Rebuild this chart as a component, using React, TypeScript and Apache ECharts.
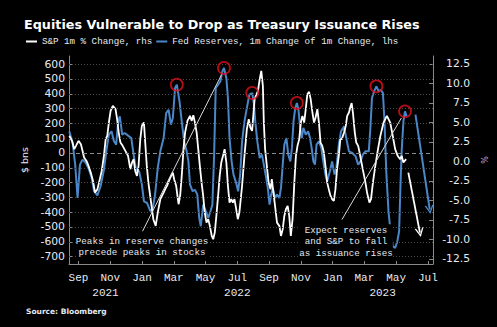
import React, { useEffect, useRef } from 'react';
import * as echarts from 'echarts';

const TITLE = 'Equities Vulnerable to Drop as Treasury Issuance Rises';
const SP_NAME = 'S&P 1m % Change, rhs';
const FED_NAME = 'Fed Reserves, 1m Change of 1m Change, lhs';
const SOURCE = 'Source: Bloomberg';
const NOTE_LEFT = 'Peaks in reserve changes\nprecede peaks in stocks';
const NOTE_RIGHT = 'Expect reserves\nand S&P to fall\nas issuance rises';
const MONTH_NAMES = ['Jan', 'Feb', 'Mar', 'Apr', 'May', 'Jun', 'Jul', 'Aug', 'Sep', 'Oct', 'Nov', 'Dec'];

// time = months since the start of Jan 2021 (fractional)
const fedTime = [
  7.92, 8.13, 8.29, 8.44, 8.59, 8.75, 8.96, 9.16, 9.33, 9.48,
  9.69, 9.89, 10.10, 10.25, 10.41, 10.58, 10.72, 10.87, 11.0, 11.10,
  11.25, 11.41, 11.62, 11.82, 11.97, 12.12, 12.32, 12.49, 12.62, 12.82,
  13.03, 13.18, 13.32, 13.49, 13.65, 13.86, 14.02, 14.17, 14.32, 14.44,
  14.58, 14.69, 14.86, 15.0, 15.15, 15.31, 15.42, 15.52, 15.69, 15.83,
  15.98, 16.10, 16.20, 16.35, 16.52, 16.67, 16.81, 16.93, 17.04, 17.14,
  17.29, 17.43, 17.56, 17.66, 17.81, 17.91, 18.01, 18.14, 18.26, 18.43,
  18.55, 18.68, 18.80, 18.95, 19.1, 19.26, 19.44, 19.55, 19.63, 19.76,
  19.91, 20.05, 20.17, 20.32, 20.42, 20.53, 20.63, 20.73, 20.88, 21.0,
  21.15, 21.25, 21.36, 21.46, 21.59, 21.71, 21.84, 21.94, 22.04, 22.15,
  22.25, 22.35, 22.46, 22.56, 22.66, 22.81, 22.96, 23.08, 23.18, 23.29,
  23.39, 23.49, 23.64, 23.79, 23.91, 24.05, 24.16, 24.33, 24.47, 24.62,
  24.74, 24.89, 25.03, 25.16, 25.22, 25.36, 25.53, 25.74, 25.95, 26.11,
  26.26, 26.40, 26.57, 26.78, 26.88, 26.98, 27.11, 27.26, 27.40, 27.54,
  27.67, 27.77, 27.88, 28.02, 28.17, 28.29, 28.44, 28.58, 28.69, 28.77,
  28.85, 28.96, 29.06, 29.16,
];
const fedValues = [
  146, 67, -79, -304, -79, -45, -67, -113, -169, -259,
  -286, -225, -113, 11, 124, 146, 83, 56, 213, 247,
  124, 135, 117, 101, -11, -113, -124, -214, -327, -338,
  -394, -371, -281, -101, 11, 101, 270, 292, 191, 236,
  439, 461, 348, 213, 78, 11, -57, -214, -259, -248,
  -281, -439, -495, -349, -394, -439, -394, -349, -11, 439,
  461, 483, 551, 574, 506, 371, 101, -57, -146, -203,
  -259, -146, 78, 213, 304, 394, 405, 326, 213, 78,
  -34, -11, -79, -169, -236, -349, -281, -236, -304, -281,
  -304, -236, -79, 56, 101, -11, -57, 34, 213, 304,
  338, 292, 169, 101, 169, 124, 146, 101, 34, -57,
  -79, 56, 78, 34, -57, -146, -192, -124, -57, -146,
  -101, 56, 146, 169, 180, 101, 11, 0, -23, -79,
  -57, -11, 11, 11, 169, 371, 416, 450, 416, 427,
  405, 213, -124, -394, -551, -630, -641, -596, -529, -236,
  11, 213, 281, 247,
];

const spTime = [
  7.92, 8.09, 8.23, 8.34, 8.50, 8.65, 8.75, 8.85, 9.00, 9.13,
  9.27, 9.41, 9.54, 9.69, 9.79, 9.96, 10.10, 10.21, 10.31, 10.41,
  10.52, 10.66, 10.83, 10.93, 11.03, 11.14, 11.28, 11.45, 11.62, 11.76,
  11.87, 11.97, 12.07, 12.18, 12.28, 12.39, 12.49, 12.62, 12.70, 12.80,
  12.90, 13.07, 13.21, 13.36, 13.49, 13.65, 13.86, 13.96, 14.07, 14.24,
  14.38, 14.44, 14.52, 14.65, 14.73, 14.80, 14.90, 15.0, 15.11, 15.21,
  15.36, 15.52, 15.63, 15.73, 15.83, 15.94, 16.04, 16.14, 16.25, 16.35,
  16.45, 16.56, 16.67, 16.77, 16.89, 16.98, 17.08, 17.18, 17.29, 17.39,
  17.49, 17.60, 17.70, 17.81, 17.91, 18.01, 18.12, 18.22, 18.32, 18.43,
  18.53, 18.63, 18.80, 18.95, 19.10, 19.22, 19.32, 19.43, 19.59, 19.80,
  19.91, 20.01, 20.11, 20.17, 20.25, 20.38, 20.47, 20.59, 20.67, 20.80,
  20.90, 21.0, 21.15, 21.25, 21.36, 21.46, 21.56, 21.67, 21.77, 21.87,
  21.98, 22.09, 22.19, 22.29, 22.40, 22.50, 22.60, 22.71, 22.81, 22.91,
  23.02, 23.12, 23.23, 23.33, 23.43, 23.54, 23.64, 23.74, 23.85, 23.95,
  24.05, 24.16, 24.26, 24.37, 24.47, 24.58, 24.68, 24.78, 24.89, 24.99,
  25.08, 25.22, 25.33, 25.42, 25.53, 25.64, 25.70, 25.78, 25.90, 25.99,
  26.11, 26.20, 26.32, 26.40, 26.57, 26.67, 26.82, 26.92, 27.04, 27.19,
  27.36, 27.51, 27.71, 27.92, 28.13, 28.29, 28.44, 28.60, 28.75, 28.85,
  28.96, 29.13,
];
const spValues = [
  3.27, 2.63, 1.56, 1.99, 2.63, 2.2, 1.35, 0.49, 0.06, -0.58,
  -1.44, -2.5, -4.0, -3.56, -2.72, -1.22, 0.71, 2.85, 3.27, 4.97,
  6.47, 7.12, 6.69, 5.41, 3.69, 2.41, 1.99, 1.35, 0.71, -1.0,
  -0.15, 0.28, -1.22, -1.86, -0.58, 2.85, 4.55, 4.97, 2.41, -0.58,
  -2.72, -5.28, -7.41, -8.27, -6.56, -4.85, -4.0, -3.56, -3.14, -2.28,
  -1.64, -1.44, -2.28, -3.14, -4.42, -5.49, -4.42, -1.86, 1.56, 3.69,
  5.19, 5.83, 5.19, 5.92, 4.97, 3.69, 1.56, -0.58, -2.72, -4.42,
  -6.56, -7.85, -7.41, -8.27, -9.55, -9.97, -9.13, -6.99, -4.42, -1.86,
  -0.15, 0.71, 1.56, -0.15, -3.14, -5.28, -4.85, -5.28, -4.85, -6.13,
  -7.41, -6.56, -3.14, 0.71, 4.13, 5.41, 4.33, 3.91, 7.97, 9.04,
  10.54, 11.6, 9.68, 4.97, 1.56, -1.0, -2.72, -3.56, -2.28, -4.42,
  -6.13, -7.85, -8.27, -9.55, -8.69, -6.99, -6.13, -5.71, -6.99, -9.55,
  -7.41, -2.72, 0.71, 1.99, 2.85, 4.97, 5.83, 4.97, 6.69, 8.61,
  8.91, 7.97, 6.26, 4.97, 5.62, 6.69, 4.97, 2.41, 1.99, 1.13,
  -0.58, -2.72, -3.56, -4.42, -4.85, -5.06, -3.56, -1.0, 0.71, 2.85,
  2.85, 3.69, 4.55, 5.83, 6.26, 7.12, 7.46, 6.26, 3.69, 2.41,
  1.99, 1.13, -0.15, -1.0, -2.72, -4.0, -5.28, -4.85, -2.72, -0.58,
  1.56, 3.27, 4.97, 5.83, 4.97, 3.27, 1.56, 0.71, 0.28, 0.71,
  -0.15, 0.28,
];

// circled peaks in reserve changes (times taken from the Fed series)
const peakTimes = [14.69, 17.66, 19.44, 22.25, 27.26, 29.06];

// projected arrows and guide lines: [time, value]
const spArrow = [[29.27, -1.44], [30.0, -9.13]];
const fedArrow = [[29.72, 259], [30.62, -383]];
const guideLines = [
  [[12.53, -529], [17.51, 529]],
  [[25.09, -450], [28.83, 236]],
];

const monthTicks = [8.5, 10.5, 12.5, 14.5, 16.5, 18.5, 20.5, 22.5, 24.5, 26.5, 28.5, 30.5];
const yearTicks = [10.2, 18.5, 27.65];
const leftTicks = [-700, -600, -500, -400, -300, -200, -100, 0, 100, 200, 300, 400, 500, 600];
const rightTicks = [-12.5, -10, -7.5, -5, -2.5, 0, 2.5, 5, 7.5, 10, 12.5];

const X_MIN = 7.9;
const X_MAX = 30.83;

const BLUE = '#4a86c8';
const TEXT = '#e6eaf2';
const AXIS = '#8a8a8a';
const MONO = '"Liberation Mono", "DejaVu Sans Mono", monospace';
const SANS = '"DejaVu Sans", Verdana, sans-serif';
const CHEVRON = 'path://M0,10 L5,0 L10,10 L8.4,10 L5,3.2 L1.6,10 Z';

export default function App() {
  const ref = useRef<HTMLDivElement>(null);

  useEffect(() => {
    document.body.style.margin = '0';
    document.body.style.background = '#000';
    if (!ref.current) return;
    const chart = echarts.init(ref.current, null, { renderer: 'svg' });

    const fedData = fedTime.map((t, i) => [t, fedValues[i]]);
    const spData = spTime.map((t, i) => [t, spValues[i]]);
    const peakData = peakTimes.map((t) => [t, fedValues[fedTime.indexOf(t)]]);

    const option: any = {
      animation: false,
      backgroundColor: '#000',
      title: {
        text: TITLE,
        left: 24,
        top: 18,
        padding: 0,
        textStyle: { color: '#ffffff', fontFamily: SANS, fontWeight: 'bold', fontSize: 12.75 },
      },
      legend: {
        data: [SP_NAME, FED_NAME],
        left: 26,
        top: 37,
        padding: 0,
        icon: 'rect',
        itemWidth: 11,
        itemHeight: 2,
        itemGap: 4,
        textStyle: { color: TEXT, fontFamily: MONO, fontSize: 9.2 },
      },
      grid: { left: 69, right: 61, top: 56, bottom: 63, containLabel: false },
      xAxis: [
        {
          type: 'value',
          min: X_MIN,
          max: X_MAX,
          axisLine: { show: true, onZero: false, lineStyle: { color: AXIS } },
          axisTick: { show: true, inside: true, length: 3, customValues: monthTicks, lineStyle: { color: AXIS } },
          axisLabel: {
            customValues: monthTicks,
            formatter: (v: number) => MONTH_NAMES[Math.floor(v + 1e-9) % 12],
            color: TEXT,
            fontFamily: MONO,
            fontSize: 11,
            margin: 8,
          },
          splitLine: { show: false },
        },
        {
          type: 'value',
          min: X_MIN,
          max: X_MAX,
          position: 'bottom',
          offset: 15,
          axisLine: { show: false, onZero: false },
          axisTick: { show: false },
          axisLabel: {
            customValues: yearTicks,
            formatter: (v: number) => String(2021 + Math.floor(v / 12)),
            color: TEXT,
            fontFamily: MONO,
            fontSize: 11,
            margin: 8,
          },
          splitLine: { show: false },
        },
      ],
      yAxis: [
        {
          type: 'value',
          position: 'left',
          min: -750,
          max: 655,
          name: '$ bns',
          nameLocation: 'middle',
          nameGap: 37,
          nameRotate: 90,
          nameTextStyle: { color: TEXT, fontFamily: SANS, fontSize: 9.5 },
          axisLine: { show: true, onZero: false, lineStyle: { color: AXIS } },
          axisTick: { show: true, inside: true, length: 4, customValues: leftTicks, lineStyle: { color: AXIS } },
          axisLabel: { customValues: leftTicks, color: TEXT, fontFamily: SANS, fontSize: 10.8, margin: 4 },
          splitLine: { show: false },
        },
        {
          type: 'value',
          position: 'right',
          min: -13.15,
          max: 13.5,
          name: '%',
          nameLocation: 'middle',
          nameGap: 44,
          nameRotate: 90,
          nameTextStyle: { color: '#c8a2d8', fontFamily: SANS, fontSize: 8 },
          axisLine: { show: true, onZero: false, lineStyle: { color: AXIS } },
          axisTick: { show: true, inside: true, length: 4, customValues: rightTicks, lineStyle: { color: AXIS } },
          axisLabel: {
            customValues: rightTicks,
            formatter: (v: number) => v.toFixed(1),
            align: 'right',
            margin: 37,
            color: TEXT,
            fontFamily: SANS,
            fontSize: 10.8,
          },
          splitLine: { show: false },
        },
      ],
      series: [
        {
          name: 'grid',
          type: 'line',
          data: [],
          xAxisIndex: 0,
          yAxisIndex: 0,
          silent: true,
          z: 1,
          markLine: {
            silent: true,
            symbol: 'none',
            label: { show: false },
            data: leftTicks.map((v) => ({
              yAxis: v,
              lineStyle:
                v === 0
                  ? { color: '#8c8c8c', type: [4, 3], width: 1 }
                  : { color: '#4c4c4c', type: [1, 2], width: 1 },
            })),
          },
        },
        {
          name: FED_NAME,
          type: 'line',
          data: fedData,
          xAxisIndex: 0,
          yAxisIndex: 0,
          showSymbol: false,
          symbol: 'none',
          lineStyle: { color: BLUE, width: 2 },
          itemStyle: { color: BLUE },
          z: 2,
        },
        {
          name: SP_NAME,
          type: 'line',
          data: spData,
          xAxisIndex: 0,
          yAxisIndex: 1,
          showSymbol: false,
          symbol: 'none',
          lineStyle: { color: '#ffffff', width: 1.8 },
          itemStyle: { color: '#ffffff' },
          z: 3,
        },
        {
          name: 'guides',
          type: 'line',
          data: [],
          xAxisIndex: 0,
          yAxisIndex: 0,
          silent: true,
          z: 4,
          markLine: {
            silent: true,
            symbol: 'none',
            label: { show: false },
            lineStyle: { color: '#d8d8d8', width: 1, type: 'solid' },
            data: guideLines.map((g) => [{ coord: g[0] }, { coord: g[1] }]),
          },
        },
        {
          name: 'fedArrow',
          type: 'line',
          data: [],
          xAxisIndex: 0,
          yAxisIndex: 0,
          silent: true,
          z: 4,
          markLine: {
            silent: true,
            symbol: ['none', CHEVRON],
            symbolSize: 9,
            label: { show: false },
            lineStyle: { color: BLUE, width: 2, type: 'solid' },
            data: [[{ coord: fedArrow[0] }, { coord: fedArrow[1] }]],
          },
        },
        {
          name: 'spArrow',
          type: 'line',
          data: [],
          xAxisIndex: 0,
          yAxisIndex: 1,
          silent: true,
          z: 4,
          markLine: {
            silent: true,
            symbol: ['none', CHEVRON],
            symbolSize: 9,
            label: { show: false },
            lineStyle: { color: '#ffffff', width: 1.8, type: 'solid' },
            data: [[{ coord: spArrow[0] }, { coord: spArrow[1] }]],
          },
        },
        {
          name: 'peaks',
          type: 'scatter',
          data: peakData,
          xAxisIndex: 0,
          yAxisIndex: 0,
          silent: true,
          symbol: 'circle',
          symbolSize: 12,
          itemStyle: { color: 'rgba(0,0,0,0)', borderColor: '#e3121b', borderWidth: 1.8 },
          z: 5,
        },
      ],
      graphic: [
        {
          type: 'text',
          x: 142,
          y: 247,
          z: 10,
          style: {
            text: NOTE_LEFT,
            fill: TEXT,
            fontFamily: MONO,
            fontSize: 9.2,
            lineHeight: 11,
            align: 'center',
            verticalAlign: 'middle',
            textAlign: 'center',
            textVerticalAlign: 'middle',
            backgroundColor: '#000',
          },
        },
        {
          type: 'text',
          x: 346,
          y: 241.7,
          z: 10,
          style: {
            text: NOTE_RIGHT,
            fill: TEXT,
            fontFamily: MONO,
            fontSize: 9.2,
            lineHeight: 11.6,
            align: 'center',
            verticalAlign: 'middle',
            textAlign: 'center',
            textVerticalAlign: 'middle',
            backgroundColor: '#000',
          },
        },
        {
          type: 'text',
          x: 26,
          y: 311,
          style: {
            text: SOURCE,
            fill: TEXT,
            fontFamily: SANS,
            fontWeight: 'bold',
            fontSize: 7.5,
            verticalAlign: 'middle',
            textVerticalAlign: 'middle',
          },
        },
      ],
    };

    chart.setOption(option);
    return () => chart.dispose();
  }, []);

  return (
    <div
      ref={ref}
      style={{ position: 'absolute', left: 0, top: 0, width: 497, height: 327, background: '#000' }}
    />
  );
}
